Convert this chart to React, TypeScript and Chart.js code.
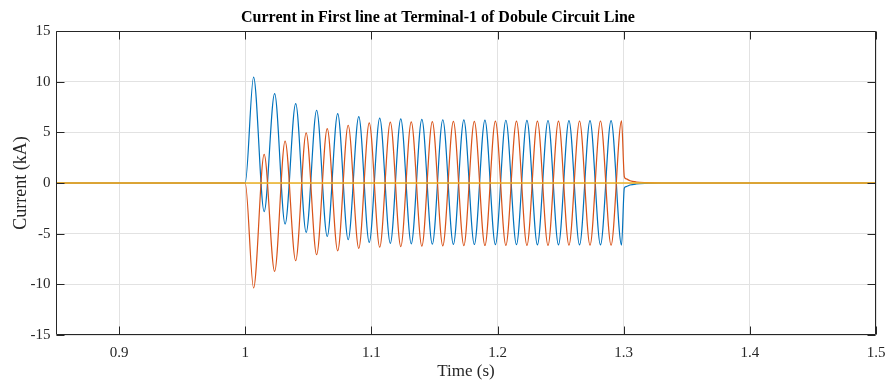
import React, { useEffect, useRef } from 'react';
import { Chart, registerables } from 'chart.js';

Chart.register(...registerables);

const chartTitle = 'Current in First line at Terminal-1 of Dobule Circuit Line';
const xAxisTitle = 'Time (s)';
const yAxisTitle = 'Current (kA)';

const xTickValues = [0.9, 1.0, 1.1, 1.2, 1.3, 1.4, 1.5];
const xTickLabels = ['0.9', '1', '1.1', '1.2', '1.3', '1.4', '1.5'];
const yTickValues = [-15, -10, -5, 0, 5, 10, 15];
const yTickLabels = ['-15', '-10', '-5', '0', '5', '10', '15'];

// sample instants (peaks / troughs of the fault current, plus pre/post fault points)
const timeSamples = [
  0.85, 1.0,
  1.0066, 1.015, 1.0233, 1.0316, 1.04, 1.0483, 1.0566, 1.065, 1.0733, 1.0816,
  1.09, 1.0983, 1.1066, 1.115, 1.1233, 1.1316, 1.14, 1.1483, 1.1566, 1.165,
  1.1733, 1.1816, 1.19, 1.1983, 1.2066, 1.215, 1.2233, 1.2316, 1.24, 1.2483,
  1.2566, 1.265, 1.2733, 1.2816, 1.29, 1.2983,
  1.3005, 1.302, 1.305, 1.31, 1.318, 1.33, 1.36, 1.5,
];

const blueCurrent = [
  0, 0,
  10.45, -2.82, 8.82, -4.06, 7.83, -4.88, 7.18, -5.28, 6.85, -5.6,
  6.55, -5.85, 6.4, -5.95, 6.32, -6.0, 6.27, -6.03, 6.24, -6.05,
  6.22, -6.07, 6.2, -6.08, 6.19, -6.09, 6.18, -6.1, 6.17, -6.1,
  6.16, -6.11, 6.16, -6.11, 6.15, -6.12,
  -0.5, -0.35, -0.2, -0.1, -0.04, 0, 0, 0,
];

const orangeCurrent = [
  0, 0,
  -10.36, 2.82, -8.72, 4.13, -7.67, 4.95, -7.08, 5.37, -6.69, 5.7,
  -6.45, 5.93, -6.33, 6.0, -6.27, 6.04, -6.23, 6.06, -6.2, 6.08,
  -6.18, 6.09, -6.17, 6.1, -6.16, 6.1, -6.15, 6.11, -6.15, 6.11,
  -6.14, 6.12, -6.14, 6.12, -6.13, 6.13,
  0.62, 0.4, 0.22, 0.1, 0.04, 0, 0, 0,
];

const yellowTime = [0.85, 1.0, 1.3, 1.5];
const yellowCurrent = [0, 0, 0, 0];

const toPoints = (xs: number[], ys: number[]) => xs.map((x, i) => ({ x, y: ys[i] }));

const AXIS_COLOR = '#262626';
const FONT = "'Liberation Serif', 'Times New Roman', serif";

const framePlugin = {
  id: 'matlabFrame',
  afterDatasetsDraw(chart: any) {
    const { ctx, chartArea: a, scales } = chart;
    const L = Math.round(a.left) + 0.5;
    const R = Math.round(a.right) - 0.5;
    const T = Math.round(a.top) + 0.5;
    const B = Math.round(a.bottom) - 0.5;
    const tl = 8;
    ctx.save();
    ctx.strokeStyle = AXIS_COLOR;
    ctx.lineWidth = 1;
    ctx.beginPath();
    ctx.rect(L, T, R - L, B - T);
    xTickValues.forEach((v) => {
      const px = Math.round(scales.x.getPixelForValue(v)) + 0.5;
      ctx.moveTo(px, B);
      ctx.lineTo(px, B - tl);
      ctx.moveTo(px, T);
      ctx.lineTo(px, T + tl);
    });
    yTickValues.forEach((v) => {
      const py = Math.round(scales.y.getPixelForValue(v)) + 0.5;
      ctx.moveTo(L, py);
      ctx.lineTo(L + tl, py);
      ctx.moveTo(R, py);
      ctx.lineTo(R - tl, py);
    });
    ctx.stroke();
    ctx.restore();
  },
};

export default function App() {
  const ref = useRef<HTMLCanvasElement | null>(null);

  useEffect(() => {
    document.body.style.margin = '0';
    const canvas = ref.current;
    if (!canvas) return;
    const chart = new Chart(canvas, {
      type: 'line',
      data: {
        datasets: [
          {
            label: 'Phase C',
            data: toPoints(yellowTime, yellowCurrent),
            borderColor: '#EDB120',
            borderWidth: 1.6,
            pointRadius: 0,
            cubicInterpolationMode: 'monotone',
          },
          {
            label: 'Phase B',
            data: toPoints(timeSamples, orangeCurrent),
            borderColor: '#D95319',
            borderWidth: 1.2,
            pointRadius: 0,
            cubicInterpolationMode: 'monotone',
          },
          {
            label: 'Phase A',
            data: toPoints(timeSamples, blueCurrent),
            borderColor: '#0072BD',
            borderWidth: 1.2,
            pointRadius: 0,
            cubicInterpolationMode: 'monotone',
          },
        ],
      },
      options: {
        responsive: false,
        animation: false,
        devicePixelRatio: 1,
        layout: { padding: { left: 0, right: 10, top: 0, bottom: 0 } },
        plugins: {
          legend: { display: false },
          tooltip: { enabled: false },
          title: {
            display: true,
            text: chartTitle,
            color: '#000000',
            font: { family: FONT, size: 16, weight: 'bold', lineHeight: 1.2 },
            padding: { top: 8.4, bottom: 3.4 },
          },
        },
        scales: {
          x: {
            type: 'linear',
            min: 0.85,
            max: 1.5,
            afterBuildTicks: (scale: any) => {
              scale.ticks = xTickValues.map((v) => ({ value: v }));
            },
            afterFit: (scale: any) => {
              scale.height = 49;
              scale.paddingLeft = 0;
              scale.paddingRight = 0;
            },
            ticks: {
              color: AXIS_COLOR,
              font: { family: FONT, size: 15, lineHeight: 1.2 },
              padding: 9,
              maxRotation: 0,
              autoSkip: false,
              callback: (value: any) => {
                const i = xTickValues.findIndex((v) => Math.abs(v - Number(value)) < 1e-9);
                return i >= 0 ? xTickLabels[i] : '';
              },
            },
            grid: { color: '#e2e2e2', lineWidth: 1, drawTicks: false },
            border: { display: false },
            title: {
              display: true,
              text: xAxisTitle,
              color: AXIS_COLOR,
              font: { family: FONT, size: 17, lineHeight: 1.2 },
              padding: { top: 0, bottom: 2.3 },
            },
          },
          y: {
            type: 'linear',
            min: -15,
            max: 15,
            afterBuildTicks: (scale: any) => {
              scale.ticks = yTickValues.map((v) => ({ value: v }));
            },
            afterFit: (scale: any) => {
              scale.width = 56;
              scale.paddingTop = 0;
              scale.paddingBottom = 0;
            },
            ticks: {
              color: AXIS_COLOR,
              font: { family: FONT, size: 15, lineHeight: 1.2 },
              padding: 5.5,
              autoSkip: false,
              callback: (value: any) => {
                const i = yTickValues.findIndex((v) => Math.abs(v - Number(value)) < 1e-9);
                return i >= 0 ? yTickLabels[i] : '';
              },
            },
            grid: { color: '#e2e2e2', lineWidth: 1, drawTicks: false },
            border: { display: false },
            title: {
              display: true,
              text: yAxisTitle,
              color: AXIS_COLOR,
              font: { family: FONT, size: 18, lineHeight: 1.2 },
              padding: { top: 10.2, bottom: 0 },
            },
          },
        },
      },
      plugins: [framePlugin],
    } as any);
    return () => chart.destroy();
  }, []);

  return (
    <div style={{ width: 886, height: 384 }}>
      <canvas ref={ref} width={886} height={384} style={{ width: 886, height: 384 }} />
    </div>
  );
}
